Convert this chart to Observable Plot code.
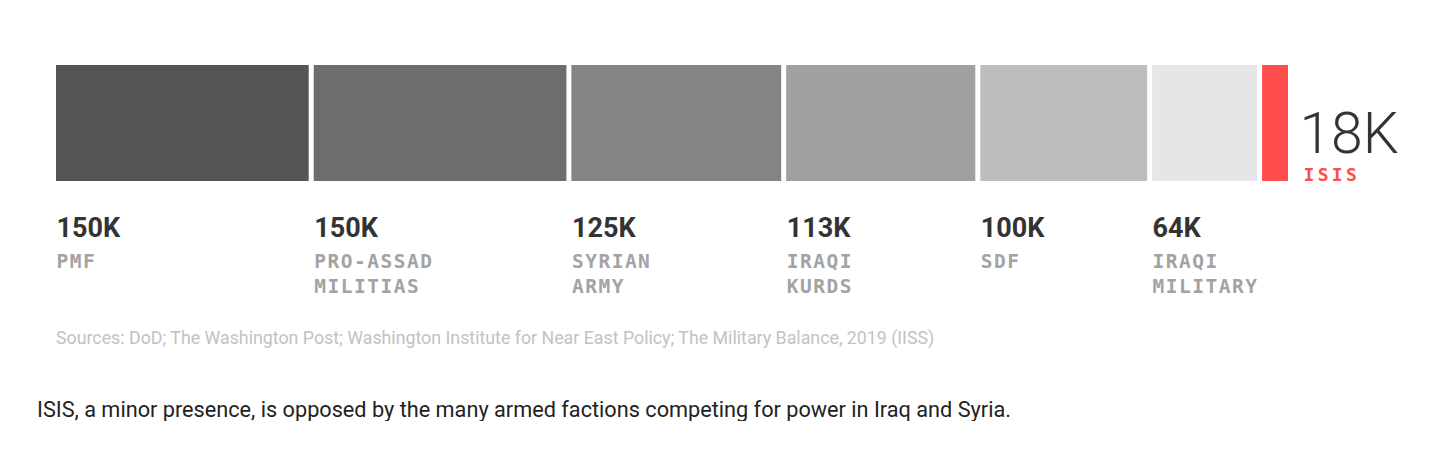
<!DOCTYPE html>
<html>
<head>
<meta charset="utf-8">
<script src="https://cdn.jsdelivr.net/npm/d3@7"></script>
<script src="https://cdn.jsdelivr.net/npm/@observablehq/plot@0.6"></script>
<style>
  html, body { margin: 0; padding: 0; background: #fff; }
  #chart svg { display: block; }
  .sources { margin: 9px 0 0 56px; font: 17.8px/17.8px Roboto, sans-serif; color: #c2c2c2; white-space: nowrap; }
  .caption { margin: 52px 0 0 37px; font: 21.7px/21.7px Roboto, sans-serif; color: #222; white-space: nowrap; }
</style>
</head>
<body>
<div id="chart"></div>
<div class="sources">Sources: DoD; The Washington Post; Washington Institute for Near East Policy; The Military Balance, 2019 (IISS)</div>
<div class="caption">ISIS, a minor presence, is opposed by the many armed factions competing for power in Iraq and Syria.</div>
<script>
const factions = ["PMF", "PRO-ASSAD\nMILITIAS", "SYRIAN\nARMY", "IRAQI\nKURDS", "SDF", "IRAQI\nMILITARY", "ISIS"];
const troopsK = [150, 150, 125, 113, 100, 64, 18];
const shades = ["#565455", "#6e6c6d", "#858384", "#a19fa0", "#bebdbe", "#e5e6e7", "#ff4d4d"];

const data = factions.map((name, i) => ({name, value: troopsK[i], color: shades[i]}));
const total = d3.sum(troopsK);
const isIsis = d => d.name === "ISIS";

const plot = Plot.plot({
  width: 1440,
  height: 320,
  marginLeft: 56,
  marginRight: 147,
  marginTop: 65,
  marginBottom: 139,
  x: {domain: [0, total], axis: null},
  color: {type: "identity"},
  marks: [
    Plot.barX(data, Plot.stackX({x: "value", fill: "color", insetRight: 5})),
    Plot.text(data, Plot.stackX1({
      x: "value",
      text: d => isIsis(d) ? null : d.value + "K",
      frameAnchor: "bottom", lineAnchor: "top", dy: 36,
      textAnchor: "start", fontFamily: "Roboto", fontWeight: "bold", fontSize: 27, fill: "#333"
    })),
    Plot.text(data, Plot.stackX1({
      x: "value",
      text: d => isIsis(d) ? null : d.name,
      frameAnchor: "bottom", lineAnchor: "top", dy: 68, lineHeight: 1.3,
      textAnchor: "start", fontFamily: "DejaVu Sans Mono", fontWeight: "bold", fontSize: 19.5, fill: "#a3a3a3",
      ariaDescription: "faction-names"
    })),
    Plot.text(data, Plot.stackX2({
      x: "value",
      text: d => isIsis(d) ? d.value + "K" : null,
      frameAnchor: "bottom", lineAnchor: "bottom", dy: -29, dx: 6,
      textAnchor: "start", fontFamily: "Roboto", fontWeight: 300, fontSize: 57, fill: "#333"
    })),
    Plot.text(data, Plot.stackX2({
      x: "value",
      text: d => isIsis(d) ? d.name : null,
      frameAnchor: "bottom", lineAnchor: "bottom", dy: -1, dx: 10,
      textAnchor: "start", fontFamily: "DejaVu Sans Mono", fontWeight: "bold", fontSize: 18, fill: "#ff4d4d",
      ariaDescription: "isis-name"
    }))
  ]
});
document.getElementById("chart").appendChild(plot);
d3.select(plot).selectAll('g[aria-description="faction-names"] text').attr("letter-spacing", "1.5px");
d3.select(plot).selectAll('g[aria-description="isis-name"] text').attr("letter-spacing", "3.3px");
</script>
</body>
</html>
